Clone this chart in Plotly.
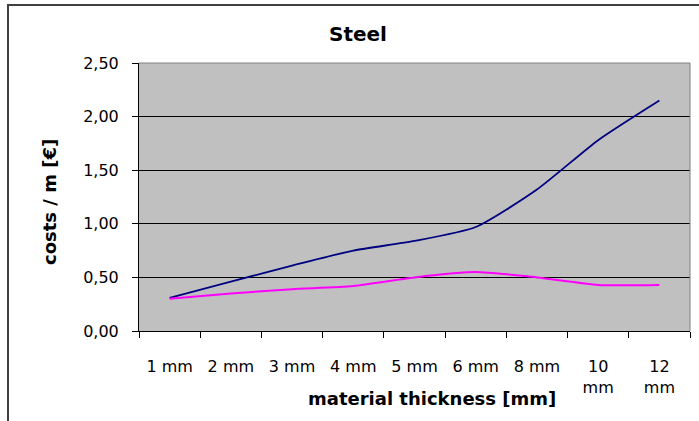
import plotly.graph_objects as go

categories = ["1 mm", "2 mm", "3 mm", "4 mm", "5 mm", "6 mm", "8 mm", "10<br>mm", "12<br>mm"]
blue_values = [0.31, 0.46, 0.61, 0.75, 0.84, 0.97, 1.32, 1.78, 2.15]
pink_values = [0.30, 0.35, 0.39, 0.42, 0.50, 0.55, 0.50, 0.43, 0.43]
y_ticks = [0, 0.5, 1.0, 1.5, 2.0, 2.5]

W, H = 699, 421
L, R, T, B = 139, 9, 63, 90
pw, ph = W - L - R, H - T - B

TICK_FONT = "DejaVu Sans, Verdana, sans-serif"
BOLD_FONT = "DejaVu Sans, Verdana, sans-serif"

fig = go.Figure()
fig.add_trace(go.Scatter(x=categories, y=blue_values, mode="lines",
                         line=dict(color="#000080", width=1.8, shape="spline", smoothing=0.6),
                         showlegend=False))
fig.add_trace(go.Scatter(x=categories, y=pink_values, mode="lines",
                         line=dict(color="#FF00FF", width=2, shape="spline", smoothing=0.6),
                         showlegend=False))

def px2paper_x(x):
    return (x - L) / pw

def px2paper_y(y):
    return (H - B - y) / ph

fig.update_layout(
    width=W, height=H,
    margin=dict(l=L, r=R, t=T, b=B),
    paper_bgcolor="white",
    plot_bgcolor="#C0C0C0",
    separators=",.",
    font=dict(family=TICK_FONT, size=16, color="black"),
    xaxis=dict(
        type="category", tickson="boundaries", ticks="outside", ticklen=6, tickcolor="black",
        showline=True, linecolor="black", linewidth=1, showgrid=False,
        tickfont=dict(family=TICK_FONT, size=16), ticklabelstandoff=21,
        range=[-0.5, 8.5],
    ),
    yaxis=dict(
        range=[0, 2.5], tickvals=y_ticks, tickformat=".2f", ticks="outside", ticklen=6,
        tickcolor="black", showline=True, linecolor="black", linewidth=1,
        showgrid=True, gridcolor="black", gridwidth=1, zeroline=False,
        tickfont=dict(family=TICK_FONT, size=16), ticklabelstandoff=10,
    ),
    annotations=[
        dict(text="<b>Steel</b>", xref="paper", yref="paper",
             x=px2paper_x(358), y=px2paper_y(34), xanchor="center", yanchor="middle",
             showarrow=False, font=dict(family=BOLD_FONT, size=20)),
        dict(text="<b>material thickness [mm]</b>", xref="paper", yref="paper",
             x=px2paper_x(432), y=px2paper_y(398), xanchor="center", yanchor="middle",
             showarrow=False, font=dict(family=BOLD_FONT, size=18)),
        dict(text="<b>costs / m [€]</b>", xref="paper", yref="paper", textangle=-90,
             x=px2paper_x(49), y=px2paper_y(202), xanchor="center", yanchor="middle",
             showarrow=False, font=dict(family=BOLD_FONT, size=18)),
    ],
    shapes=[
        dict(type="line", xref="paper", yref="paper", x0=0, x1=1, y0=1, y1=1,
             line=dict(color="#808080", width=1)),
        dict(type="line", xref="paper", yref="paper", x0=1, x1=1, y0=0, y1=1,
             line=dict(color="#808080", width=1)),
        dict(type="rect", xref="paper", yref="paper",
             x0=px2paper_x(8), x1=px2paper_x(720), y0=px2paper_y(440), y1=px2paper_y(5),
             line=dict(color="#404040", width=2), layer="above"),
    ],
)

fig.write_html("out.html", config={"displayModeBar": False},
               post_script="document.body.style.margin='0px';")
